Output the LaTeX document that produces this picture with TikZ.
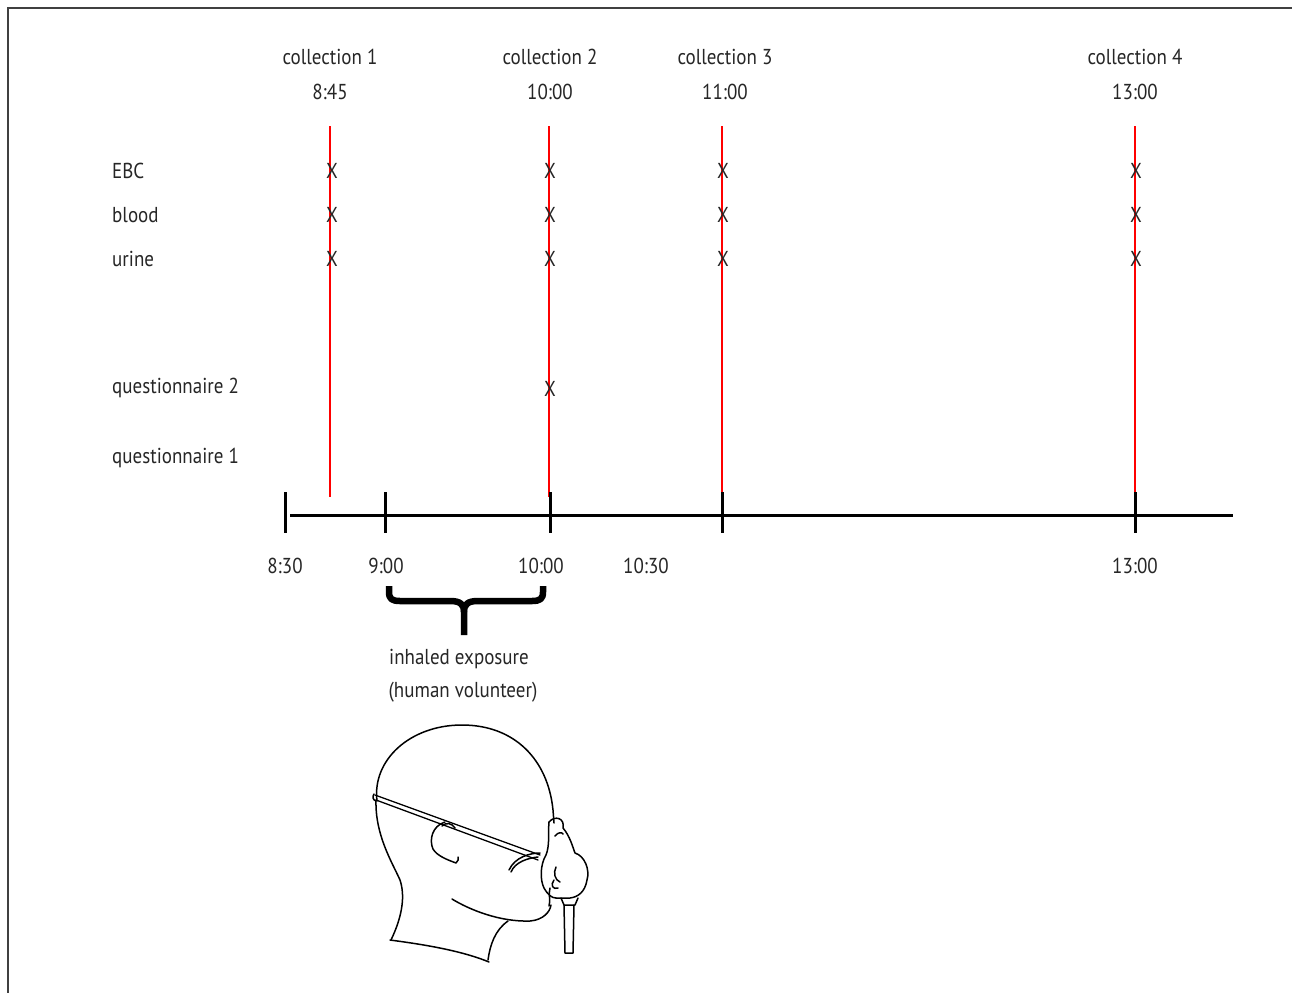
\documentclass[tikz,border=0pt]{standalone}
\usepackage{fontspec}
\setmainfont[FakeStretch=0.88]{PT Sans}
\begin{document}
\begin{tikzpicture}[x=1pt,y=-1pt,
  lbl/.style={font=\fontsize{21.6}{24}\selectfont, text=black!85, inner sep=0pt},
  rowlbl/.style={lbl, anchor=west},
  xmark/.style={lbl},
  redline/.style={draw=red, line width=2.3pt},
  axis/.style={draw=black, line width=3pt},
  tick/.style={draw=black, line width=3pt},
  brace/.style={draw=black, line width=6.5pt, line cap=butt, line join=round},
  head/.style={draw=black, line width=1.5pt, line cap=round, line join=round},
  frame/.style={draw=black!75, line width=2pt}]
\useasboundingbox (0,0) rectangle (1292,993);

% frame (top and left edges)
\draw[frame] (1292,8) -- (8,8) -- (8,993);

% column headings
\foreach \n/\x/\t in {1/330/8:45, 2/550/10:00, 3/725/11:00, 4/1135/13:00}{
  \node[lbl] (col\n) at (\x,57) {collection \n};
  \node[lbl] (time\n) at (\x,92) {\t};
}

% row labels
\node[rowlbl] (ebc)   at (112,171) {EBC};
\node[rowlbl] (blood) at (112,215) {blood};
\node[rowlbl] (urine) at (112,259) {urine};
\node[rowlbl] (q2)    at (112,388) {questionnaire 2};
\node[rowlbl] (q1)    at (112,458) {questionnaire 1};

% sampling lines
\foreach \n/\x in {1/330, 2/549, 3/722, 4/1135}{
  \coordinate (top\n) at (\x,126);
  \coordinate (bot\n) at (\x,497);
  \draw[redline] (top\n) -- (bot\n);
}

% sample marks
\foreach \n/\x in {1/332, 2/550, 3/723, 4/1136}{
  \node[xmark] (xe\n) at (\x,171) {X};
  \node[xmark] (xb\n) at (\x,215) {X};
  \node[xmark] (xu\n) at (\x,259) {X};
}
\node[xmark] (xq2) at (550,389) {X};

% time axis
\coordinate (axL) at (290,515);
\coordinate (axR) at (1233,515);
\draw[axis] (axL) -- (axR);
\foreach \n/\x in {a/285, b/385, c/550, d/722, e/1135}{
  \coordinate (tt\n) at (\x,492);
  \coordinate (tb\n) at (\x,533);
  \draw[tick] (tt\n) -- (tb\n);
}

% axis labels
\node[lbl] (t830)  at (285,566) {8:30};
\node[lbl] (t900)  at (386,566) {9:00};
\node[lbl] (t1000) at (541,566) {10:00};
\node[lbl] (t1030) at (646,566) {10:30};
\node[lbl] (t1300) at (1135,566) {13:00};

% exposure brace
\draw[brace] (389,586) -- (389,592) .. controls (389,599) and (392,601) .. (400,601)
  -- (450,601) .. controls (460,601) and (464,604) .. (464,612) -- (464,635);
\draw[brace] (543,586) -- (543,592) .. controls (543,599) and (540,601) .. (532,601)
  -- (478,601) .. controls (468,601) and (464,604) .. (464,612);

\node[lbl] (exp1) at (459,659) {inhaled exposure};
\node[lbl] (exp2) at (463,692) {(human volunteer)};

% volunteer wearing a mask
% skull
\draw[head] (377,801) .. controls (372,760) and (410,725) .. (462,725)
  .. controls (515,725) and (548,760) .. (553,810) -- (554,823);
% back of head and neck
\draw[head] (376,800) .. controls (375,835) and (392,862) .. (400,880)
  .. controls (405,895) and (403,915) .. (391,940);
% base of neck
\draw[head] (390,940) .. controls (420,944) and (460,950) .. (489,962);
% front of neck
\draw[head] (488,960) .. controls (490,945) and (495,930) .. (508,921);
% jaw
\draw[head] (452,899) .. controls (470,910) and (500,922) .. (530,921)
  .. controls (543,920) and (550,912) .. (551,905);
% chin and lips
\draw[head] (549,906) .. controls (551,900) and (548,895) .. (550,888);
% ear
\draw[head] (445,822) .. controls (432,826) and (429,840) .. (433,849)
  .. controls (437,856) and (448,860) .. (456,863)
  .. controls (458,861) and (459,859) .. (458,857);
\draw[head] (442,826) .. controls (446,822) and (452,823) .. (455,828);
% strap (double line)
\draw[head, line width=1.3pt] (375,795) -- (540,855);
\draw[head, line width=1.3pt] (376,800) -- (538,860);
\draw[head] (374,794) .. controls (372,797) and (373,800) .. (376,801);
% strap hook onto mask
\draw[head] (511,872) .. controls (515,862) and (528,858) .. (538,857);
\draw[head] (509,870) .. controls (515,857) and (530,853) .. (540,853);
% mask
\draw[head] (549,822) .. controls (548,832) and (550,845) .. (546,855)
  .. controls (540,865) and (540,880) .. (544,888)
  .. controls (548,895) and (552,898) .. (556,898);
\draw[head] (549,822) .. controls (555,815) and (565,818) .. (563,828)
  .. controls (570,836) and (573,848) .. (575,853)
  .. controls (585,856) and (590,870) .. (587,880)
  .. controls (585,892) and (578,897) .. (570,898) -- (556,898);
\draw[head] (555,836) .. controls (558,832) and (562,832) .. (563,834);
\draw[head] (556,867) .. controls (553,873) and (555,880) .. (560,882);
\draw[head] (554,880) .. controls (550,885) and (553,890) .. (558,888);
% tube collar and hose
\draw[head] (561,898) -- (564,905) -- (575,905) -- (578,898);
\draw[head] (564,905) -- (565,953) -- (573,953) -- (574,905);
\end{tikzpicture}
\end{document}
